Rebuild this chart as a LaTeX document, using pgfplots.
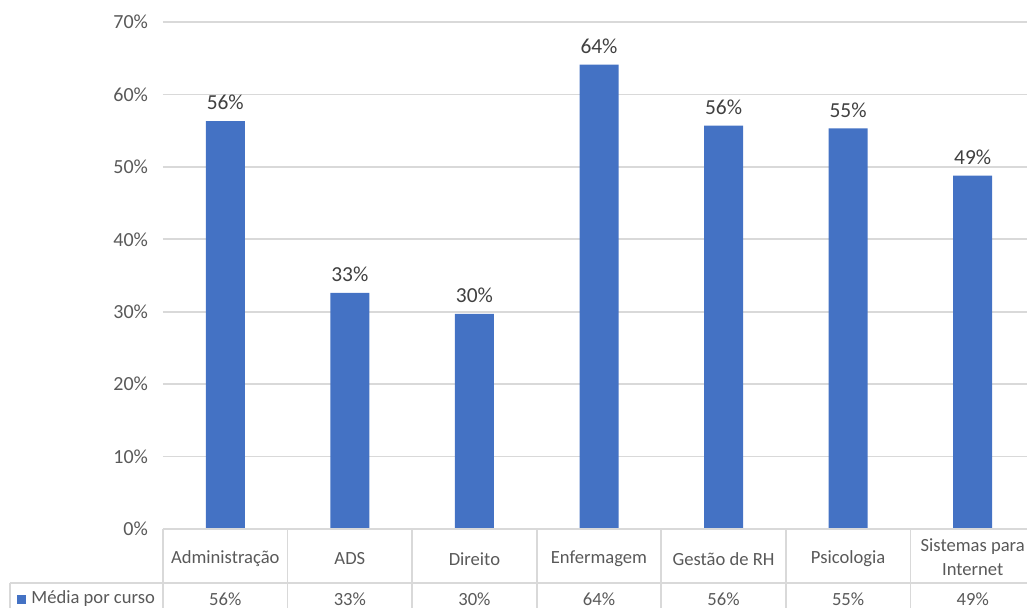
\documentclass[border=0pt]{standalone}
\usepackage{fontspec}
\setmainfont{Carlito}
\usepackage{pgfplots}
\pgfplotsset{compat=1.18}
\definecolor{barblue}{HTML}{4472C4}
\definecolor{txtgray}{HTML}{595959}
\definecolor{lblgray}{HTML}{404040}
\definecolor{gridgray}{HTML}{D9D9D9}
\tikzset{cat/.style={font=\fontsize{9.3}{11.8}\selectfont, text=txtgray, align=center}}
\begin{document}
\begin{tikzpicture}
\begin{axis}[
    scale only axis,
    width=436pt, height=253.5pt,
    xmin=-0.5, xmax=6.5, ymin=0, ymax=70,
    ybar, bar width=19.5pt,
    ytick={0,10,...,70},
    yticklabel={\pgfmathprintnumber{\tick}\%},
    yticklabel style={font=\fontsize{10}{12}\selectfont, text=txtgray, xshift=-4pt},
    /pgf/number format/assume math mode=true,
    xtick=\empty,
    major tick length=0pt,
    axis line style={draw=none},
    ymajorgrids, grid style={line width=0.9pt, draw=gridgray},
    point meta=explicit symbolic,
    nodes near coords,
    every node near coord/.append style={font=\fontsize{10.7}{12}\selectfont, text=lblgray, yshift=2pt},
    clip=false,
]
\addplot[fill=barblue, draw=none] coordinates {
    (0,56.3) [56\%]
    (1,32.6) [33\%]
    (2,29.7) [30\%]
    (3,64.1) [64\%]
    (4,55.7) [56\%]
    (5,55.3) [55\%]
    (6,48.8) [49\%]
};
% data table
\draw[gridgray, line width=0.9pt] (axis cs:-0.5,0) -- (axis cs:6.6,0);
\draw[gridgray, line width=0.9pt] ([xshift=-76.5pt,yshift=-27pt]axis cs:-0.5,0) -- ([yshift=-27pt]axis cs:6.6,0);
\draw[gridgray, line width=0.9pt] ([xshift=-76.5pt,yshift=-27pt]axis cs:-0.5,0) -- ([xshift=-76.5pt,yshift=-45pt]axis cs:-0.5,0);
\pgfplotsinvokeforeach{-0.5,0.5,1.5,2.5,3.5,4.5,5.5}{
  \draw[gridgray, line width=0.9pt] (axis cs:#1,0) -- ([yshift=-45pt]axis cs:#1,0);
}
\node[cat] at ([yshift=-15pt]axis cs:0,0) {Administração};
\node[cat] at ([yshift=-15pt]axis cs:1,0) {ADS};
\node[cat] at ([yshift=-15pt]axis cs:2,0) {Direito};
\node[cat] at ([yshift=-15pt]axis cs:3,0) {Enfermagem};
\node[cat] at ([yshift=-15pt]axis cs:4,0) {Gestão de RH};
\node[cat] at ([yshift=-15pt]axis cs:5,0) {Psicologia};
\node[cat] at ([yshift=-14pt]axis cs:6,0) {Sistemas para\\Internet};
\node[cat] at ([yshift=-35pt]axis cs:0,0) {56\%};
\node[cat] at ([yshift=-35pt]axis cs:1,0) {33\%};
\node[cat] at ([yshift=-35pt]axis cs:2,0) {30\%};
\node[cat] at ([yshift=-35pt]axis cs:3,0) {64\%};
\node[cat] at ([yshift=-35pt]axis cs:4,0) {56\%};
\node[cat] at ([yshift=-35pt]axis cs:5,0) {55\%};
\node[cat] at ([yshift=-35pt]axis cs:6,0) {49\%};
\fill[barblue] ([xshift=-73pt,yshift=-37.3pt]axis cs:-0.5,0) rectangle ++(4.5pt,4.5pt);
\node[cat, anchor=west, inner sep=0pt] at ([xshift=-66pt,yshift=-35pt]axis cs:-0.5,0) {Média por curso};
\end{axis}
\pgfresetboundingbox
\path[use as bounding box] (-81.5pt,-39pt) rectangle (432pt,264.5pt);
\end{tikzpicture}
\end{document}
